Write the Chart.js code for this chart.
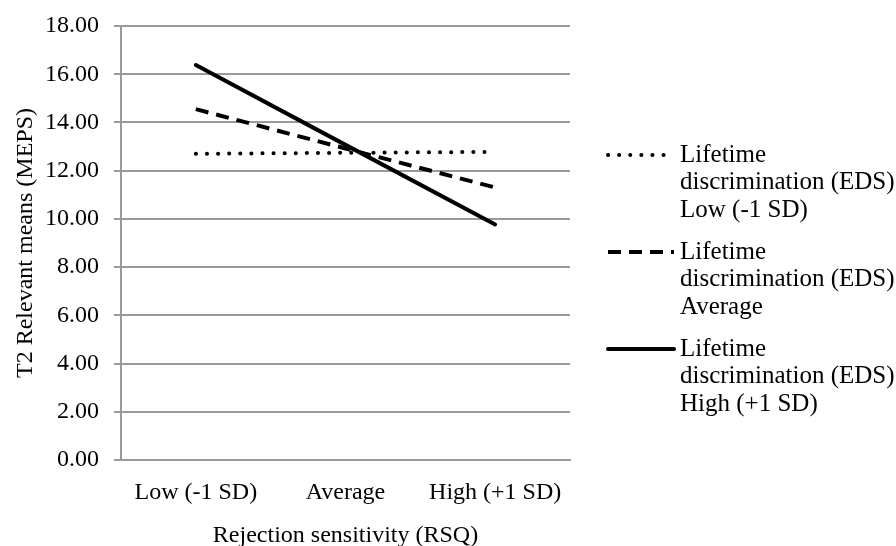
<!DOCTYPE html>
<html>
<head>
<meta charset="utf-8">
<script src="https://cdn.jsdelivr.net/npm/chart.js@4/dist/chart.umd.min.js"></script>
<style>
  html, body { margin: 0; padding: 0; background: #fff; }
  #wrap { width: 896px; height: 546px; }
</style>
</head>
<body>
<div id="wrap"><canvas id="chart"></canvas></div>
<script>
var categories = ['Low (-1 SD)', 'Average', 'High (+1 SD)'];
var lowEds = [12.70, 12.74, 12.78];
var avgEds = [14.55, 12.92, 11.30];
var highEds = [16.38, 13.07, 9.77];
var seriesNames = [
    ['Lifetime', 'discrimination (EDS)', 'Low (-1 SD)'],
    ['Lifetime', 'discrimination (EDS)', 'Average'],
    ['Lifetime', 'discrimination (EDS)', 'High (+1 SD)']
];

var serif = "'Liberation Serif', 'DejaVu Serif', serif";

// legend drawn on the right side, using each dataset's own line style
var sideLegend = {
    id: 'sideLegend',
    afterDraw: function (chart) {
        var ctx = chart.ctx;
        var x0 = 608, x1 = 674, tx = 680;
        var tops = [155, 252, 349];
        ctx.save();
        chart.data.datasets.forEach(function (ds, i) {
            var y = tops[i];
            ctx.strokeStyle = ds.borderColor;
            ctx.lineWidth = ds.borderWidth;
            ctx.lineCap = ds.borderCapStyle || 'butt';
            ctx.setLineDash(ds.borderDash || []);
            ctx.beginPath();
            ctx.moveTo(x0, y);
            ctx.lineTo(x1, y);
            ctx.stroke();
            ctx.setLineDash([]);
            ctx.fillStyle = '#000';
            ctx.font = '25px ' + serif;
            ctx.textBaseline = 'middle';
            seriesNames[i].forEach(function (line, j) {
                ctx.fillText(line, tx, y + j * 27.5);
            });
        });
        ctx.restore();
    }
};

var ctx = document.getElementById('chart').getContext('2d');
new Chart(ctx, {
    type: 'line',
    data: {
        labels: categories,
        datasets: [
            {
                label: seriesNames[0].join(' '),
                data: lowEds,
                borderColor: '#000',
                borderWidth: 4,
                borderDash: [0.1, 11],
                borderCapStyle: 'round',
                pointRadius: 0,
                fill: false,
                tension: 0
            },
            {
                label: seriesNames[1].join(' '),
                data: avgEds,
                borderColor: '#000',
                borderWidth: 4,
                borderDash: [13, 8],
                pointRadius: 0,
                fill: false,
                tension: 0
            },
            {
                label: seriesNames[2].join(' '),
                data: highEds,
                borderColor: '#000',
                borderWidth: 4,
                borderCapStyle: 'round',
                pointRadius: 0,
                fill: false,
                tension: 0
            }
        ]
    },
    options: {
        responsive: true,
        maintainAspectRatio: false,
        animation: false,
        layout: { padding: { left: 8, right: 326, top: 8, bottom: 0 } },
        plugins: {
            legend: { display: false },
            tooltip: { enabled: false }
        },
        scales: {
            x: {
                offset: true,
                afterFit: function (scale) { scale.height = 86; },
                grid: { display: false, drawTicks: false },
                border: { color: '#9a9a9a', width: 2 },
                ticks: {
                    color: '#000',
                    font: { family: serif, size: 24 },
                    padding: 18,
                    maxRotation: 0
                },
                title: {
                    display: true,
                    text: 'Rejection sensitivity (RSQ)',
                    color: '#000',
                    font: { family: serif, size: 24 },
                    padding: { top: 12, bottom: -4 }
                }
            },
            y: {
                min: 0,
                max: 18,
                afterFit: function (scale) {
                    scale.width = 113;
                    scale.paddingTop = 26;
                },
                ticks: {
                    stepSize: 2,
                    color: '#000',
                    font: { family: serif, size: 24 },
                    padding: 15,
                    callback: function (v) { return v.toFixed(2); }
                },
                grid: { color: '#9a9a9a', lineWidth: 2, tickLength: 7 },
                border: { color: '#9a9a9a', width: 2 },
                title: {
                    display: true,
                    text: 'T2 Relevant means (MEPS)',
                    color: '#000',
                    font: { family: serif, size: 24 },
                    padding: { top: 3, bottom: 7 }
                }
            }
        }
    },
    plugins: [sideLegend]
});
</script>
</body>
</html>
